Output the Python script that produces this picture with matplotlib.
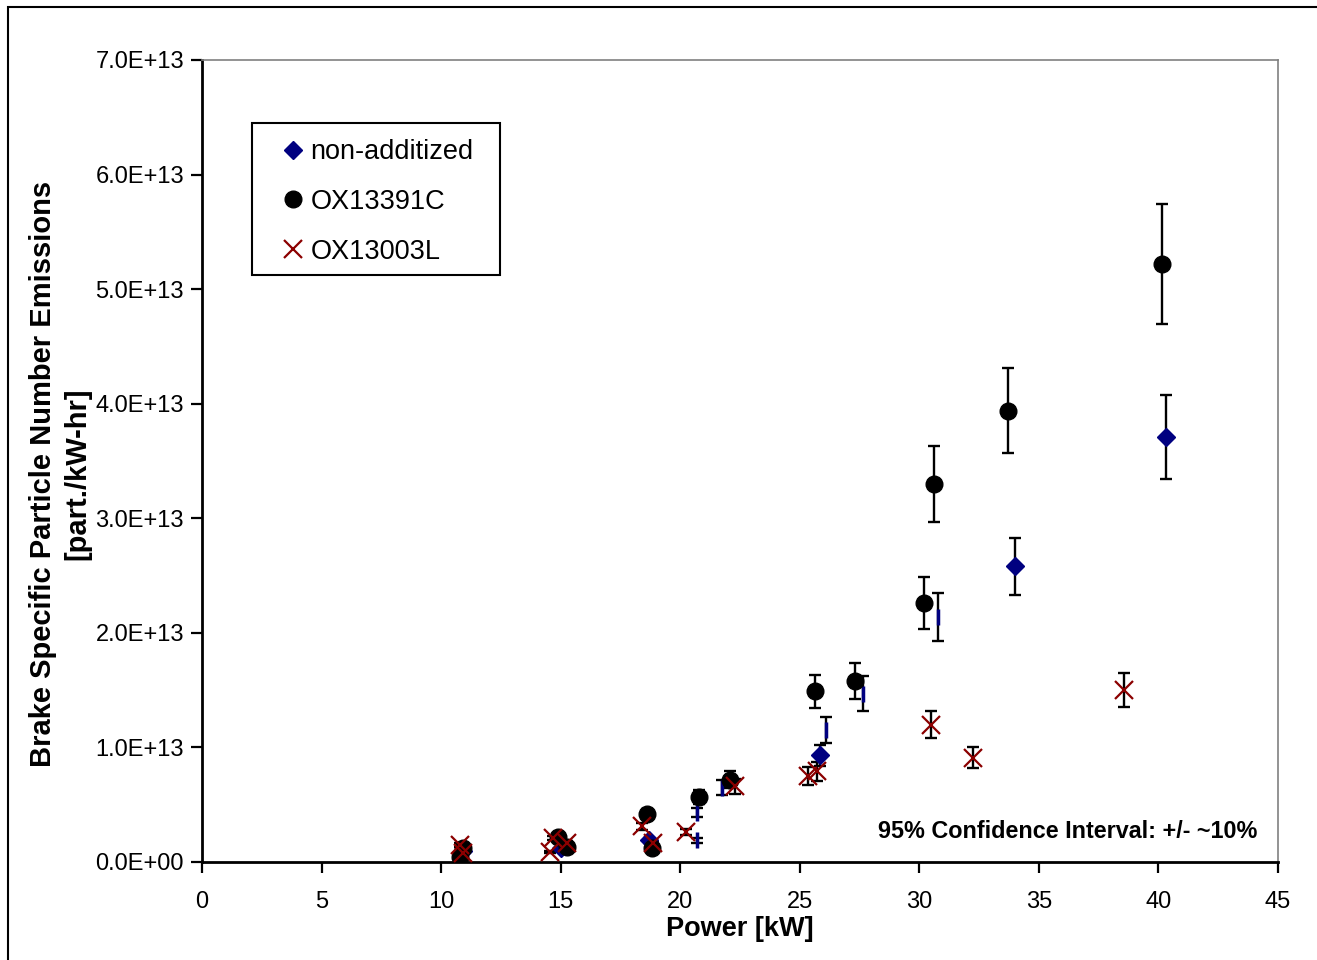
import matplotlib
matplotlib.use("Agg")
import matplotlib.pyplot as plt
from matplotlib.ticker import FuncFormatter, MultipleLocator
from matplotlib.patches import Rectangle

plt.rcParams['font.family'] = ['Liberation Sans', 'DejaVu Sans']

# non-additized (visible diamonds)
na_x = [10.9, 15.0, 18.7, 25.85, 34.0, 40.3]
na_y = [0.10e13, 0.12e13, 0.19e13, 0.93e13, 2.58e13, 3.71e13]
na_err = [0.01e13, 0.01e13, 0.02e13, 0.09e13, 0.25e13, 0.37e13]

# non-additized points hidden behind other markers (only error bars visible)
nah_x = [20.7, 20.7, 21.75, 26.1, 27.65, 30.8]
nah_y = [0.43e13, 0.19e13, 0.65e13, 1.15e13, 1.47e13, 2.14e13]
nah_err = [0.04e13, 0.02e13, 0.065e13, 0.115e13, 0.15e13, 0.21e13]

# OX13391C
ox1_x = [10.8, 10.9, 14.9, 15.25, 18.6, 18.8, 20.8, 22.1, 25.65, 27.3, 30.2, 30.6, 33.7, 40.15]
ox1_y = [0.04e13, 0.12e13, 0.22e13, 0.13e13, 0.42e13, 0.12e13, 0.57e13, 0.72e13,
         1.49e13, 1.58e13, 2.26e13, 3.30e13, 3.94e13, 5.22e13]
ox1_err = [0.004e13, 0.012e13, 0.022e13, 0.013e13, 0.04e13, 0.012e13, 0.06e13, 0.07e13,
           0.145e13, 0.16e13, 0.225e13, 0.33e13, 0.37e13, 0.52e13]

# OX13003L
ox2_x = [10.8, 10.9, 14.55, 14.7, 15.25, 18.4, 18.85, 20.25, 22.3, 25.35, 25.7, 30.5, 32.25, 38.55]
ox2_y = [0.15e13, 0.08e13, 0.09e13, 0.21e13, 0.17e13, 0.31e13, 0.17e13, 0.26e13, 0.66e13,
         0.75e13, 0.79e13, 1.20e13, 0.91e13, 1.50e13]
ox2_err = [0.015e13, 0.008e13, 0.009e13, 0.021e13, 0.017e13, 0.03e13, 0.017e13, 0.026e13, 0.066e13,
           0.075e13, 0.079e13, 0.12e13, 0.09e13, 0.15e13]

navy = '#000080'
dark_red = '#8B0000'

fig = plt.figure(figsize=(13.17, 9.6), dpi=100)
ax = fig.add_axes([202 / 1317, 1 - 862 / 960, 1076 / 1317, 802 / 960])

# outer frame
fig.patches.append(Rectangle((8 / 1317, -0.02), 1.0, 1 - 7 / 960 + 0.02, transform=fig.transFigure,
                             fill=False, edgecolor='black', linewidth=1.5))

eb_kw = dict(fmt='none', ecolor='black', elinewidth=1.7, capsize=4.3, capthick=1.7, zorder=2)
ax.errorbar(nah_x, nah_y, yerr=nah_err, **eb_kw)
ax.errorbar(na_x, na_y, yerr=na_err, **eb_kw)
ax.errorbar(ox1_x, ox1_y, yerr=ox1_err, **eb_kw)
ax.errorbar(ox2_x, ox2_y, yerr=ox2_err, **eb_kw)

ax.plot(nah_x, nah_y, linestyle='none', marker='|', color=navy, markersize=11, mew=2.5, zorder=3)
ax.plot(na_x, na_y, linestyle='none', marker='D', color=navy, markersize=9,
        label='non-additized', zorder=4)
ax.plot(ox1_x, ox1_y, linestyle='none', marker='o', color='black', markersize=12,
        label='OX13391C', zorder=4)
ax.plot(ox2_x, ox2_y, linestyle='none', marker='x', color=dark_red, markersize=13, mew=1.6,
        label='OX13003L', zorder=5)

ax.set_xlim(0, 45)
ax.set_ylim(0, 7.0e13)
ax.xaxis.set_major_locator(MultipleLocator(5))
ax.yaxis.set_major_locator(MultipleLocator(1.0e13))
ax.yaxis.set_major_formatter(FuncFormatter(lambda v, p: f"{v:.1E}"))
ax.tick_params(axis='both', labelsize=17, width=1.6, length=8, direction='out', colors='black')
ax.tick_params(axis='x', pad=13)
ax.tick_params(axis='y', pad=5)

for side in ['left', 'bottom']:
    ax.spines[side].set_linewidth(2)
for side in ['top', 'right']:
    ax.spines[side].set_color('#808080')
    ax.spines[side].set_linewidth(1.2)

ax.set_xlabel('Power [kW]', fontsize=19.5, fontweight='bold')
ax.xaxis.set_label_coords(0.5, -0.067)
ax.set_ylabel('Brake Specific Particle Number Emissions\n[part./kW-hr]', fontsize=21,
              fontweight='bold', linespacing=1.3)
ax.yaxis.set_label_coords(-0.103, 0.484)

# legend box drawn separately so it can be sized like the original
ax.add_patch(Rectangle((0.0465, 0.7319), 0.2305, 0.1895, transform=ax.transAxes,
                       fill=False, edgecolor='black', linewidth=1.5, zorder=6))
leg = ax.legend(loc='upper left', bbox_to_anchor=(0.0743, 0.9015), borderaxespad=0,
                fontsize=19.5, frameon=False, borderpad=0,
                handlelength=0.8, handletextpad=0.25, labelspacing=0.88)

ax.text(0.9805, 0.0375, '95% Confidence Interval: +/- ~10%', transform=ax.transAxes,
        ha='right', va='center', fontsize=16.8, fontweight='bold')

fig.savefig('out.png', dpi=100)
